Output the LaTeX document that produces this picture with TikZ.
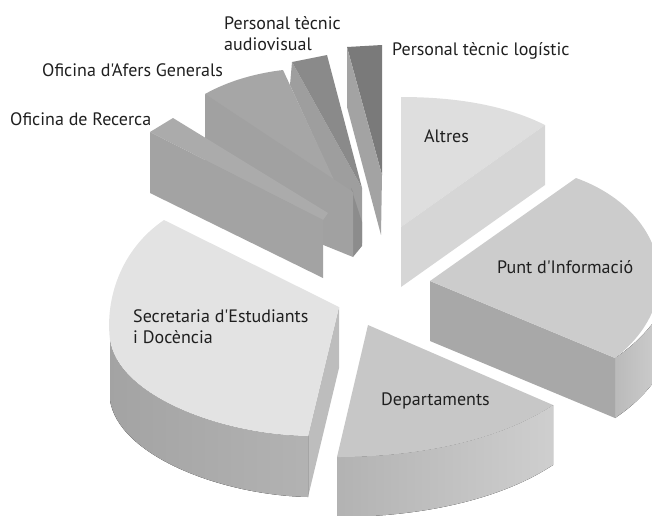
\documentclass[tikz,border=0pt]{standalone}
\usepackage{fontspec}
\setmainfont{PT Sans}[Ligatures=TeXOff]
\begin{document}
\begin{tikzpicture}[x=1pt,y=-1pt,
  face/.style={draw=none},
  lbl/.style={anchor=base west,inner sep=0pt,font=\fontsize{18}{20.5}\selectfont,text=black!88},
  lbl2/.style={lbl,align=left}]
\useasboundingbox (0,0) rectangle (652,515);
\begin{scope}
\clip (0,0) rectangle (652,515);
% Personal tecnic logistic
\fill[face,fill=black!52] (347,47) -- (382,45) -- (382,175) -- cycle;
\fill[face,fill=black!36] (347,47) -- (382,175) -- (381,235) -- (347,107) -- cycle;
% audiovisual
\fill[face,fill=black!38] (292,62) -- (362,188) -- (362,243) -- (290,85) -- cycle;
\fill[face,fill=black!46] (292,62) -- (327,55) -- (362,188) -- cycle;
% Afers Generals
\fill[face,fill=black!35] (205,94) .. controls (230,80) and (258,73) .. (283,70) -- (360,236) -- cycle;
\fill[face,fill=black!45] (351,188) -- (362,222) -- (362,246) -- (353,257) -- (353,192) -- cycle;
\fill[face,fill=black!37] (205,94) -- (353,192) -- (353,257) -- (205,197) -- cycle;
% Recerca
\fill[face,fill=black!33] (150,132) -- (173,118) -- (328,213) -- (323,220) -- cycle;
\fill[face,fill=black!36] (150,132) -- (323,220) -- (323,278) -- (150,193) -- cycle;
% Altres
\fill[face,fill=black!13] (401,97) .. controls (455,97) and (505,105) .. (545,125) -- (401,227) -- cycle;
\fill[face,fill=black!16] (401,227) -- (545,125) -- (545,185) -- (401,287) -- cycle;
% Punt d'Informacio
\fill[face,left color=black!27,right color=black!20] (615,358) .. controls (630,348) and (645,335) .. (658,316) -- (658,376) .. controls (645,395) and (630,408) .. (615,418) -- cycle;
\fill[face,fill=black!34] (430,281) -- (615,358) -- (615,418) -- (430,341) -- cycle;
\fill[face,fill=black!20] (430,281) -- (576,178) .. controls (665,210) and (690,300) .. (615,358) -- cycle;
% Secretaria
\fill[face,fill=black!26] (339,307) -- (339,368) -- (308,497) -- (308,436) -- cycle;
\fill[face,left color=black!36,right color=black!30] (110,340) -- (110,400) .. controls (118,455) and (220,495) .. (308,497) -- (308,436) .. controls (220,435) and (118,395) .. (110,340) -- cycle;
\fill[face,fill=black!11] (164,220) -- (339,307) -- (308,436) .. controls (220,435) and (118,395) .. (110,340) .. controls (105,300) and (120,250) .. (164,220) -- cycle;
% Departaments
\fill[face,left color=black!30,right color=black!19] (337,457) .. controls (420,457) and (500,440) .. (553,405) -- (553,465) .. controls (500,500) and (420,517) .. (337,517) -- cycle;
\fill[face,fill=black!22] (368,325) -- (553,405) .. controls (500,440) and (420,457) .. (337,457) -- cycle;
\end{scope}
% labels
\node[lbl2] (lav) at (224,50) {Personal tècnic\\audiovisual};
\node[lbl] (llo) at (392,55) {Personal tècnic logístic};
\node[lbl] (laf) at (42,76) {Oficina d'Afers Generals};
\node[lbl] (lre) at (10,125) {Oficina de Recerca};
\node[lbl] (lal) at (424,142) {Altres};
\node[lbl] (lpu) at (497,273) {Punt d'Informació};
\node[lbl2] (lse) at (133,343) {Secretaria d'Estudiants\\i Docència};
\node[lbl] (lde) at (381,405) {Departaments};
\end{tikzpicture}
\end{document}
